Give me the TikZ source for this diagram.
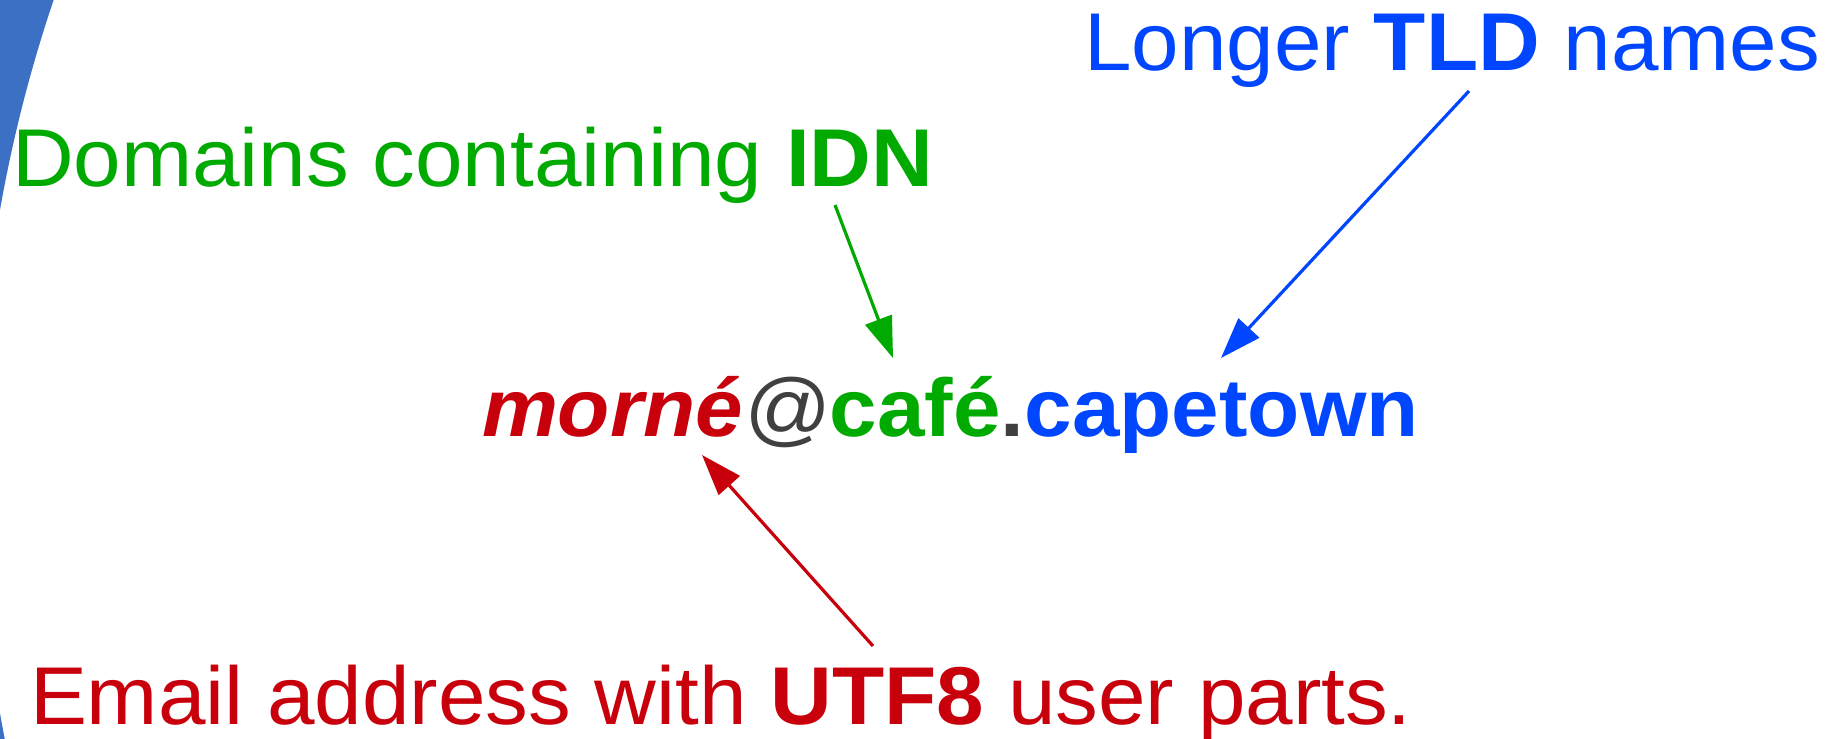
\documentclass[tikz,border=0pt]{standalone}
\usepackage{fontspec}
\setmainfont{Liberation Sans}
\usetikzlibrary{arrows.meta}
\definecolor{cred}{RGB}{200,0,12}
\definecolor{cgreen}{RGB}{0,170,0}
\definecolor{cblue}{RGB}{0,70,255}
\definecolor{cgrey}{RGB}{64,64,64}
\definecolor{cswoosh}{RGB}{60,112,196}
\begin{document}
\begin{tikzpicture}[x=1bp,y=-1bp,
  lbl/.style={anchor=base west,inner sep=0pt,outer sep=0pt,xscale=1.042,
    font=\fontsize{82bp}{96bp}\selectfont},
  arr/.style={line width=3.2bp,-{Triangle[length=41bp,width=28bp]}}]
\useasboundingbox (0,0) rectangle (1836,739);
\begin{scope}
\clip (0,0) rectangle (1836,739);
\fill[cswoosh,even odd rule] (-100,-100) rectangle (1836,800)
  (1418.8,461.6) circle[radius=1440.7bp];
\end{scope}
\node[lbl,text=cblue] (tld) at (1084,71) {Longer \textbf{TLD} names};
\node[lbl,text=cgreen] (idn) at (12,186) {Domains containing \textbf{IDN}};
\node[lbl,text=cred] (utf) at (30,724) {Email address with \textbf{UTF8} user parts.};
\node[lbl] (addr) at (482,436) {\textcolor{cred}{\textbf{\textit{morné}}}\textcolor{cgrey}{\textit{@}}\textcolor{cgreen}{\textbf{café}}\textcolor{cgrey}{\textbf{.}}\textcolor{cblue}{\textbf{capetown}}};
\coordinate (gs) at (835,205);
\coordinate (gt) at (893,358);
\coordinate (bs) at (1469,91);
\coordinate (bt) at (1221,358);
\coordinate (rs) at (873,646);
\coordinate (rt) at (702,455);
\draw[arr,cgreen] (gs) -- (gt);
\draw[arr,cblue] (bs) -- (bt);
\draw[arr,cred] (rs) -- (rt);
\end{tikzpicture}
\end{document}
